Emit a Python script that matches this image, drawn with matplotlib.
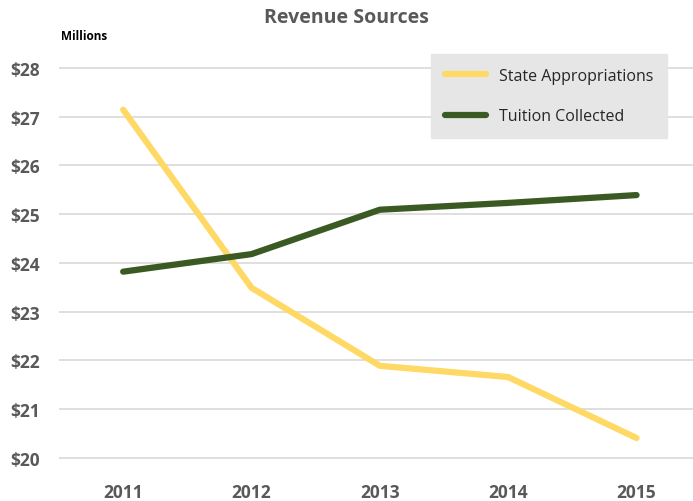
import matplotlib
matplotlib.use("Agg")
import matplotlib.pyplot as plt

# data (millions of dollars)
years = ["2011", "2012", "2013", "2014", "2015"]
state_approp = [27.14, 23.49, 21.89, 21.66, 20.41]
tuition = [23.82, 24.18, 25.09, 25.23, 25.39]
y_ticks = [20, 21, 22, 23, 24, 25, 26, 27, 28]

plt.rcParams['font.family'] = ['Open Sans', 'DejaVu Sans']

W, H = 693, 502
fig = plt.figure(figsize=(W / 100, H / 100), dpi=100)
# plot area in pixels
left, right, top, bottom = 59, 693, 59, 460
ax = fig.add_axes([left / W, (H - bottom) / H, (right - left) / W, (bottom - top) / H])

x = range(len(years))
ax.plot(x, state_approp, color="#FFD966", lw=4.5, solid_capstyle="round",
        solid_joinstyle="round", label="State Appropriations", zorder=3)
ax.plot(x, tuition, color="#3B5A23", lw=4.5, solid_capstyle="round",
        solid_joinstyle="round", label="Tuition Collected", zorder=3)

ax.set_xlim(-0.5, 4.44)
ax.set_ylim(19.98, 28.2)
ax.set_yticks(y_ticks)
ax.set_yticklabels(["$%d" % v for v in y_ticks])
ax.set_xticks(list(x))
ax.set_xticklabels(years)
ax.grid(axis="y", color="#D9D9D9", lw=1.2)
ax.set_axisbelow(True)
for s in ax.spines.values():
    s.set_visible(False)
ax.tick_params(length=0, labelsize=12.5, labelcolor="#595959")
ax.tick_params(axis="y", pad=14)
ax.tick_params(axis="x", pad=17)
for lab in ax.get_xticklabels() + ax.get_yticklabels():
    lab.set_fontweight("bold")

leg = ax.legend(loc="upper right", bbox_to_anchor=((667 - left) / (right - left), (bottom - 55) / (bottom - top)),
                frameon=True, fancybox=False, facecolor="#E6E6E6", edgecolor="#E6E6E6",
                fontsize=11.5, handlelength=2.6, labelspacing=1.55, borderpad=0.85,
                handletextpad=0.8, borderaxespad=0)
leg.get_frame().set_alpha(1)
for t in leg.get_texts():
    t.set_color("#262626")

fig.text(346 / W, 1 - 18 / H, "Revenue Sources", ha="center", va="center",
         fontsize=14, fontweight="bold", color="#595959")
fig.text(61 / W, 1 - 37 / H, "Millions", ha="left", va="center",
         fontsize=8.5, fontweight="bold", color="black")

fig.savefig("out.png", dpi=100)
